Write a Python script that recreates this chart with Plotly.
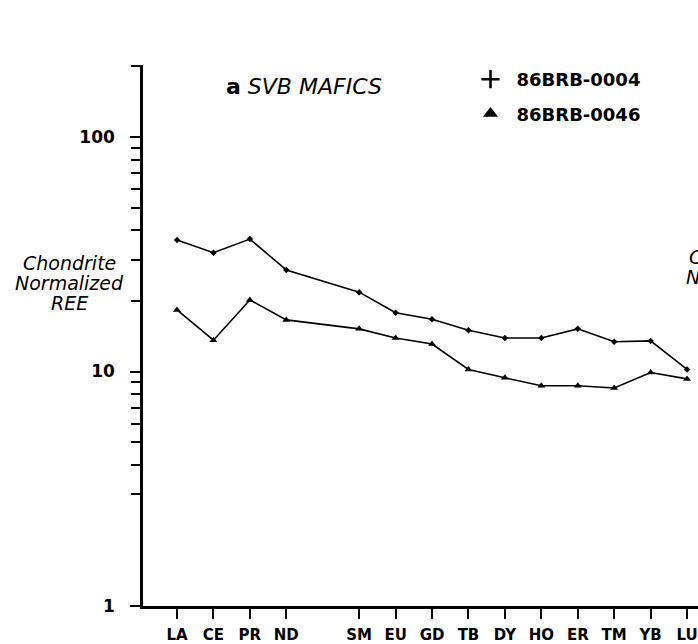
import plotly.graph_objects as go

# Rare earth elements (atomic number positions; PM omitted)
elements = ["LA", "CE", "PR", "ND", "SM", "EU", "GD", "TB", "DY", "HO", "ER", "TM", "YB", "LU"]
atomic_number = [57, 58, 59, 60, 62, 63, 64, 65, 66, 67, 68, 69, 70, 71]

# Chondrite-normalized REE values
s0004 = [36.4, 32.1, 36.7, 27.1, 21.8, 17.8, 16.7, 15.0, 13.9, 13.9, 15.2, 13.4, 13.5, 10.2]
s0046 = [18.3, 13.6, 20.2, 16.6, 15.2, 13.9, 13.1, 10.2, 9.4, 8.7, 8.7, 8.5, 9.9, 9.3]

series_names = ["86BRB-0004", "86BRB-0046"]

y_major = [1, 10, 100]
y_major_text = ["1", "10", "100"]
y_minor = [3, 4, 5, 6, 7, 8, 9, 20, 30, 40, 50, 60, 70, 80, 90, 200]

W, H = 698, 644
L, R, T, B = 143, 0, 65, 38
pw, ph = W - L - R, H - T - B


def px(x):
    return (x - L) / pw


def py(y):
    return (H - B - y) / ph


fig = go.Figure()

fig.add_trace(go.Scatter(
    x=atomic_number, y=s0004, mode="lines+markers", showlegend=False,
    line=dict(color="black", width=1.6),
    marker=dict(symbol="diamond", size=5, color="black"),
))
fig.add_trace(go.Scatter(
    x=atomic_number, y=s0046, mode="lines+markers", showlegend=False,
    line=dict(color="black", width=1.6),
    marker=dict(symbol="triangle-up", size=7, color="black"),
))

# legend-only entries
fig.add_trace(go.Scatter(
    x=[None], y=[None], mode="markers", name=series_names[0], legendgroup="a",
    marker=dict(symbol="cross-thin", size=13, color="black", line=dict(color="black", width=2.6)),
))
fig.add_trace(go.Scatter(
    x=[None], y=[None], mode="markers", name=series_names[1], legendgroup="b",
    marker=dict(symbol="triangle-up", size=13, color="black"),
))

font_bold = dict(family="DejaVu Sans", color="black", weight="bold")

fig.update_layout(
    width=W, height=H,
    margin=dict(l=L, r=R, t=T, b=B, pad=0),
    paper_bgcolor="white", plot_bgcolor="white",
    showlegend=True,
    legend=dict(
        x=px(464.5), y=py(61), xanchor="left", yanchor="top",
        font=dict(size=18, **font_bold),
        bgcolor="rgba(0,0,0,0)", tracegroupgap=8,
        traceorder="grouped", itemwidth=42,
    ),
    xaxis=dict(
        range=[56.067, 71.30],
        tickmode="array", tickvals=atomic_number, ticktext=elements,
        ticks="outside", ticklen=10, tickwidth=2, tickcolor="black",
        tickfont=dict(size=15, **font_bold),
        ticklabelstandoff=3,
        showline=True, linecolor="black", linewidth=2.5,
        showgrid=False, zeroline=False,
    ),
    yaxis=dict(
        type="log", range=[0, 2.307],
        tickmode="array", tickvals=y_major, ticktext=y_major_text,
        ticks="outside", ticklen=10, tickwidth=2, tickcolor="black",
        tickfont=dict(size=17, **font_bold),
        ticklabelstandoff=12,
        minor=dict(tickmode="array", tickvals=y_minor, ticks="outside",
                   ticklen=9, tickwidth=2, tickcolor="black", showgrid=False),
        showline=True, linecolor="black", linewidth=2.5,
        showgrid=False, zeroline=False,
    ),
)

annos = [
    dict(text="<b>a</b> <i>SVB MAFICS</i>", x=px(303.5), y=py(86), xanchor="center", yanchor="middle",
         font=dict(family="DejaVu Sans", size=22, color="black")),
    dict(text="<i>Chondrite</i>", x=px(69), y=py(263), xanchor="center", yanchor="middle",
         font=dict(family="DejaVu Sans", size=19, color="black")),
    dict(text="<i>Normalized</i>", x=px(69), y=py(283), xanchor="center", yanchor="middle",
         font=dict(family="DejaVu Sans", size=19, color="black")),
    dict(text="<i>REE</i>", x=px(69), y=py(303), xanchor="center", yanchor="middle",
         font=dict(family="DejaVu Sans", size=19, color="black")),
    dict(text="<i>Chondrite</i>", x=px(687), y=py(257), xanchor="left", yanchor="middle",
         font=dict(family="DejaVu Sans", size=19, color="black")),
    dict(text="<i>Normalized</i>", x=px(684), y=py(277), xanchor="left", yanchor="middle",
         font=dict(family="DejaVu Sans", size=19, color="black")),
]
for a in annos:
    a.update(xref="paper", yref="paper", showarrow=False)
    fig.add_annotation(**a)

fig.write_html("out.html")
